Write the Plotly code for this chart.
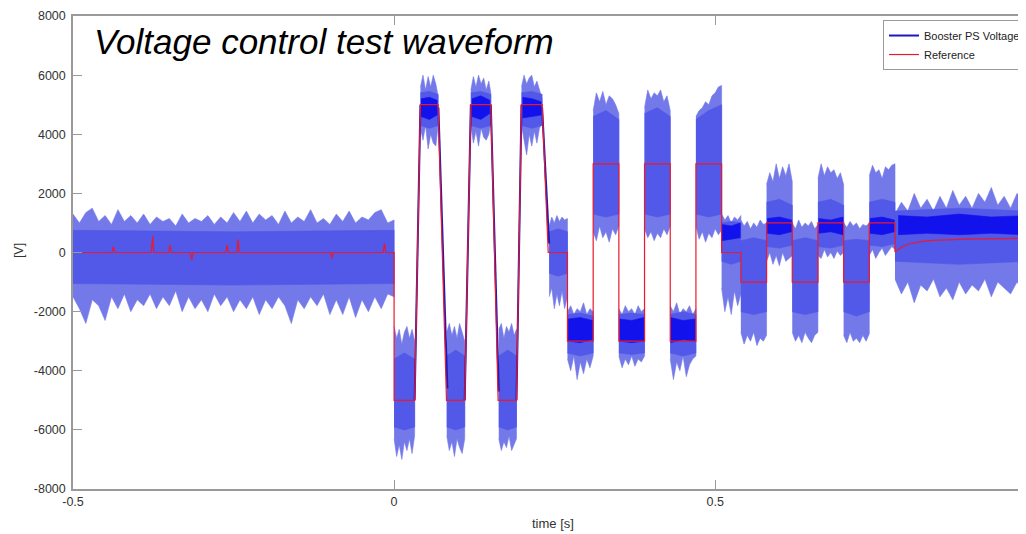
import plotly.graph_objects as go

# ---------------- Reference (red) ----------------
ref_t = [-0.5, -0.439, -0.437, -0.435, -0.378, -0.376, -0.374, -0.351, -0.349, -0.347,
         -0.317, -0.315, -0.313, -0.262, -0.260, -0.258, -0.245, -0.243, -0.241,
         -0.099, -0.097, -0.095, -0.017, -0.015, -0.013, 0.0,
         0.0, 0.032, 0.041, 0.0685, 0.0816, 0.110, 0.1195, 0.1506, 0.162, 0.1906, 0.1984,
         0.2305, 0.240, 0.27, 0.27, 0.31, 0.31, 0.35, 0.35, 0.39, 0.39, 0.43, 0.43, 0.47,
         0.47, 0.51, 0.51, 0.54, 0.54, 0.58, 0.58, 0.62, 0.62, 0.66, 0.66, 0.70, 0.70,
         0.74, 0.74, 0.78, 0.78, 0.79, 0.80, 0.81, 0.82, 0.84, 0.86, 0.89, 0.92, 0.95, 0.984]
ref_v = [0, 0, 200, 0, 0, 550, 0, 0, 250, 0,
         0, -250, 0, 0, 250, 0, 0, 450, 0,
         0, -200, 0, 0, 300, 0, 0,
         -5000, -5000, 5000, 5000, -5000, -5000, 5000, 5000, -5000, -5000, 5000,
         5000, 0, 0, -3000, -3000, 3000, 3000, -3000, -3000, 3000, 3000, -3000, -3000,
         3000, 3000, 0, 0, -1000, -1000, 1000, 1000, -1000, -1000, 1000, 1000, -1000,
         -1000, 1000, 1000, 20, 180, 280, 330, 370, 410, 430, 450, 460, 470, 480]

# ------------- Booster PS voltage, outer (spike) envelope -------------
outer_t = [
    -0.50, -0.49, -0.48, -0.47, -0.46, -0.45, -0.44, -0.43, -0.42, -0.41, -0.40, -0.39, -0.38,
    -0.37, -0.36, -0.35, -0.34, -0.33, -0.32, -0.31, -0.30, -0.29, -0.28, -0.27, -0.26, -0.25,
    -0.24, -0.23, -0.22, -0.21, -0.20, -0.19, -0.18, -0.17, -0.16, -0.15, -0.14, -0.13, -0.12,
    -0.11, -0.10, -0.09, -0.08, -0.07, -0.06, -0.05, -0.04, -0.03, -0.02, -0.01, 0.0, None,
    0.0, 0.004, 0.008, 0.012, 0.016, 0.020, 0.024, 0.028, 0.032, None,
    0.041, 0.045, 0.049, 0.053, 0.057, 0.061, 0.065, 0.0685, None,
    0.082, 0.086, 0.090, 0.094, 0.098, 0.102, 0.106, 0.110, None,
    0.1195, 0.1235, 0.1275, 0.1315, 0.1355, 0.1395, 0.1435, 0.1475, 0.1506, None,
    0.163, 0.167, 0.171, 0.175, 0.179, 0.183, 0.187, 0.1906, None,
    0.1984, 0.2024, 0.2064, 0.2104, 0.2144, 0.2184, 0.2224, 0.2264, 0.2305, None,
    0.2415, 0.2455, 0.2495, 0.2535, 0.2575, 0.2615, 0.2655, 0.27, None,
    0.27, 0.275, 0.28, 0.285, 0.29, 0.295, 0.30, 0.305, 0.31, None,
    0.31, 0.315, 0.32, 0.325, 0.33, 0.335, 0.34, 0.345, 0.35, None,
    0.35, 0.355, 0.36, 0.365, 0.37, 0.375, 0.38, 0.385, 0.39, None,
    0.39, 0.395, 0.40, 0.405, 0.41, 0.415, 0.42, 0.425, 0.43, None,
    0.43, 0.435, 0.44, 0.445, 0.45, 0.455, 0.46, 0.465, 0.47, None,
    0.47, 0.475, 0.48, 0.485, 0.49, 0.495, 0.50, 0.505, 0.51, None,
    0.51, 0.515, 0.52, 0.525, 0.53, 0.535, 0.54, None,
    0.54, 0.545, 0.55, 0.555, 0.56, 0.565, 0.57, 0.575, 0.58, None,
    0.58, 0.585, 0.59, 0.595, 0.60, 0.605, 0.61, 0.615, 0.62, None,
    0.62, 0.625, 0.63, 0.635, 0.64, 0.645, 0.65, 0.655, 0.66, None,
    0.66, 0.665, 0.67, 0.675, 0.68, 0.685, 0.69, 0.695, 0.70, None,
    0.70, 0.705, 0.71, 0.715, 0.72, 0.725, 0.73, 0.735, 0.74, None,
    0.74, 0.745, 0.75, 0.755, 0.76, 0.765, 0.77, 0.775, 0.78, None,
    0.78, 0.79, 0.80, 0.81, 0.82, 0.83, 0.84, 0.85, 0.86, 0.87, 0.88, 0.89, 0.90, 0.91,
    0.92, 0.93, 0.94, 0.95, 0.96, 0.97, 0.98, 0.984]
outer_hi = [
    1300, 1000, 1350, 1500, 1050, 1250, 950, 1450, 1050, 1250, 1000, 1300, 950,
    1200, 1050, 1150, 900, 1300, 1000, 1150, 1050, 1250, 950, 1200, 1000, 1350,
    1050, 1400, 1000, 1300, 1100, 1250, 950, 1400, 1000, 1200, 1050, 1450, 1000,
    1150, 950, 1300, 1050, 1400, 1000, 1200, 1100, 1350, 1450, 1000, 1100, None,
    -2500, -2900, -2600, -3100, -2700, -2500, -2900, -2600, -3000, None,
    5600, 6000, 5500, 5950, 5600, 6000, 5700, 5300, None,
    -2700, -2400, -2800, -2500, -2900, -2400, -2700, -3000, None,
    5500, 5950, 5600, 6000, 5700, 5900, 5500, 5800, 5400, None,
    -2600, -2400, -2900, -2500, -2700, -2400, -2800, -2600, None,
    5600, 6000, 5700, 5900, 6000, 5600, 5800, 5500, 5200, None,
    900, 1200, 1000, 1250, 1050, 1200, 1100, 1150, None,
    -2000, -1800, -2100, -1900, -2000, -1700, -2100, -1900, -2000, None,
    4800, 5400, 5100, 5450, 5000, 5300, 5200, 5000, 4700, None,
    -1900, -2100, -1800, -2000, -1900, -2100, -1800, -2000, -1900, None,
    4900, 5500, 5200, 5400, 5300, 5500, 5100, 5300, 4800, None,
    -1800, -2000, -1700, -2100, -1900, -2000, -1800, -2100, -1900, None,
    4600, 4800, 4900, 5100, 5000, 5300, 5400, 5600, 5650, None,
    1300, 1100, 1250, 1000, 1200, 1100, 1250, None,
    1100, 900, 1050, 800, 1000, 850, 1100, 950, 1000, None,
    2300, 2700, 2400, 3000, 2500, 2900, 2600, 3000, 2400, None,
    1000, 800, 1100, 850, 1000, 900, 1050, 800, 950, None,
    2500, 3000, 2600, 2900, 2700, 2800, 2500, 2700, 2300, None,
    1000, 850, 1050, 900, 1000, 800, 950, 900, 1000, None,
    2600, 2950, 2700, 2800, 2500, 2900, 2800, 2950, 3000, None,
    1300, 1700, 1400, 2000, 1500, 1800, 1400, 1900, 1500, 2100, 1600, 1900, 1500, 2000,
    1700, 2200, 1600, 1900, 1500, 2000, 1800, 1600]
outer_lo = [
    -1500, -1900, -2400, -1600, -1800, -2300, -1500, -1900, -1400, -2000, -1600, -1800, -1400,
    -1900, -1500, -1800, -1300, -2000, -1500, -1900, -1600, -2000, -1400, -1800, -1500, -2000,
    -1600, -1900, -1500, -2100, -1600, -1900, -1500, -1800, -2400, -1600, -1900, -1500, -1800,
    -1400, -2100, -1600, -2100, -1500, -2200, -1600, -2000, -1500, -1900, -1400, -1500, None,
    -6300, -6900, -6500, -7000, -6400, -6700, -6300, -6800, -6200, None,
    4200, 3800, 4300, 3500, 4000, 3700, 3600, 4300, None,
    -6200, -6700, -6400, -6900, -6300, -6600, -6800, -6300, None,
    4300, 3700, 4100, 3600, 4200, 3900, 3800, 4000, 4400, None,
    -6300, -6700, -6400, -6600, -6200, -6700, -6500, -6300, None,
    4300, 3800, 3300, 4000, 3600, 4100, 3700, 4200, 4400, None,
    -1500, -1200, -1900, -1400, -1800, -1300, -1900, -1500, None,
    -3600, -4000, -3500, -4300, -3700, -4100, -3600, -3900, -3500, None,
    700, 400, 900, 500, 700, 350, 800, 600, 900, None,
    -3500, -3900, -3600, -3800, -3500, -3850, -3600, -3700, -3500, None,
    800, 500, 700, 400, 650, 500, 800, 600, 900, None,
    -3600, -4300, -3700, -4000, -3500, -4200, -3800, -3600, -3500, None,
    900, 450, 700, 350, 650, 500, 800, 600, 750, None,
    -1200, -2000, -1500, -2100, -1300, -1800, -1400, None,
    -2700, -3100, -2800, -3000, -2700, -3150, -2900, -3000, -2800, None,
    -300, 0, -400, -100, -450, 0, -300, -200, -100, None,
    -2700, -3000, -2800, -3050, -2700, -2900, -3050, -2800, -2700, None,
    -100, -200, 100, -150, 0, -200, 50, -100, 0, None,
    -2800, -3050, -2700, -3000, -2900, -3050, -2800, -3000, -2750, None,
    -100, 100, -200, 0, 150, -100, 50, 200, 100, None,
    -900, -1400, -1000, -1700, -1100, -1300, -900, -1500, -1200, -1600, -1000, -1400, -1100,
    -1300, -900, -1500, -1000, -1200, -1400, -1000, -1300, -1100]

# ------------- dense (overlapping) part of the trace -------------
mid_t = [-0.5, -0.25, 0.0, None, 0.0, 0.016, 0.032, None, 0.041, 0.055, 0.0685, None,
         0.082, 0.096, 0.110, None, 0.1195, 0.135, 0.1506, None, 0.163, 0.177, 0.1906, None,
         0.1984, 0.2145, 0.2305, None, 0.2415, 0.2555, 0.27, None,
         0.27, 0.29, 0.31, None, 0.31, 0.33, 0.35, None, 0.35, 0.37, 0.39, None,
         0.39, 0.41, 0.43, None, 0.43, 0.45, 0.47, None, 0.47, 0.49, 0.51, None,
         0.51, 0.525, 0.54, None, 0.54, 0.56, 0.58, None, 0.58, 0.60, 0.62, None,
         0.62, 0.64, 0.66, None, 0.66, 0.68, 0.70, None, 0.70, 0.72, 0.74, None,
         0.74, 0.76, 0.78, None, 0.78, 0.88, 0.984]
mid_hi = [750, 700, 750, None, -3600, -3400, -3600, None, 5400, 5450, 5350, None,
          -3500, -3300, -3500, None, 5400, 5450, 5350, None, -3500, -3300, -3500, None,
          5400, 5450, 5350, None, 700, 800, 700, None,
          -2100, -2050, -2150, None, 4600, 4800, 4500, None, -2100, -2050, -2100, None,
          4700, 4900, 4600, None, -2100, -2000, -2100, None, 4500, 4800, 5000, None,
          1000, 1050, 1000, None, 400, 500, 400, None, 1700, 1800, 1600, None,
          400, 500, 400, None, 1700, 1800, 1600, None, 400, 450, 400, None,
          1700, 1800, 1700, None, 1400, 1500, 1400]
mid_lo = [-1050, -1100, -1050, None, -5900, -6000, -5900, None, 4300, 4200, 4300, None,
          -5900, -6000, -5900, None, 4300, 4200, 4300, None, -5900, -6000, -5900, None,
          4300, 4200, 4300, None, -700, -800, -700, None,
          -3400, -3500, -3400, None, 1300, 1200, 1300, None, -3400, -3450, -3400, None,
          1300, 1200, 1300, None, -3400, -3500, -3400, None, 1300, 1200, 1300, None,
          -300, -400, -300, None, -2000, -2100, -2000, None, 200, 150, 250, None,
          -2000, -2100, -2000, None, 200, 150, 250, None, -2000, -2150, -2000, None,
          250, 200, 300, None, -300, -400, -300]

core_t = [0.042, 0.055, 0.067, None, 0.121, 0.135, 0.149, None, 0.200, 0.215, 0.229, None,
          0.271, 0.290, 0.309, None, 0.351, 0.370, 0.389, None, 0.431, 0.450, 0.469, None,
          0.510, 0.525, 0.539, None, 0.581, 0.600, 0.619, None, 0.661, 0.680, 0.699, None,
          0.741, 0.760, 0.779, None, 0.785, 0.83, 0.88, 0.93, 0.984]
core_hi = [5200, 5250, 5150, None, 5200, 5300, 5150, None, 5250, 5200, 5100, None,
           -2250, -2200, -2300, None, -2250, -2300, -2200, None, -2200, -2300, -2250, None,
           950, 900, 1000, None, 1150, 1200, 1100, None, 1150, 1100, 1200, None,
           1150, 1200, 1100, None, 1250, 1200, 1300, 1200, 1250]
core_lo = [4600, 4500, 4650, None, 4600, 4500, 4700, None, 4550, 4600, 4650, None,
           -3000, -3050, -2950, None, -3000, -3050, -3000, None, -3050, -2950, -3000, None,
           400, 450, 500, None, 650, 600, 700, None, 650, 700, 600, None,
           650, 600, 700, None, 600, 650, 600, 650, 600]

# ramps where the voltage follows the trapezoidal reference
ramp_t = [0.032, 0.041, None, 0.069, 0.083, None, 0.110, 0.1195, None,
          0.1506, 0.163, None, 0.1906, 0.1984, None, 0.2305, 0.2415]
ramp_v = [-5000, 5000, None, 4900, -4600, None, -5000, 5000, None,
          5000, -4700, None, -5000, 5000, None, 4900, 300]

x_tickvals = [-0.5, 0, 0.5]
x_ticktext = ["-0.5", "0", "0.5"]
y_tickvals = [-8000, -6000, -4000, -2000, 0, 2000, 4000, 6000, 8000]
y_ticktext = ["-8000", "-6000", "-4000", "-2000", "0", "2000", "4000", "6000", "8000"]


def band_polygons(ts, his, los):
    """Closed polygons (one per segment split by None) between hi and lo envelopes."""
    xs, ys = [], []
    seg_t, seg_h, seg_l = [], [], []
    for t, h, l in list(zip(ts, his, los)) + [(None, None, None)]:
        if t is None:
            if seg_t:
                xs += seg_t + seg_t[::-1] + [None]
                ys += seg_h + seg_l[::-1] + [None]
            seg_t, seg_h, seg_l = [], [], []
        else:
            seg_t.append(t)
            seg_h.append(h)
            seg_l.append(l)
    return xs, ys


FONT = "Liberation Sans, Arial, Helvetica, sans-serif"
TXT = "#333333"
AX = "#9a9a9a"

fig = go.Figure()
for (ts, hs, ls), col in [((outer_t, outer_hi, outer_lo), "rgb(115,121,232)"),
                          ((mid_t, mid_hi, mid_lo), "rgb(82,88,232)"),
                          ((core_t, core_hi, core_lo), "rgb(18,18,236)")]:
    px, py = band_polygons(ts, hs, ls)
    fig.add_trace(go.Scatter(x=px, y=py, mode="lines", fill="toself", fillcolor=col,
                             line=dict(color=col, width=0.6), showlegend=False,
                             hoverinfo="skip"))

fig.add_trace(go.Scatter(x=ramp_t, y=ramp_v, mode="lines", name="Booster PS Voltage",
                         line=dict(color="rgb(25,25,190)", width=2)))
fig.add_trace(go.Scatter(x=ref_t, y=ref_v, mode="lines", name="Reference",
                         line=dict(color="rgb(235,25,45)", width=1.2)))

# the page body adds an 8 px offset, so the figure is 8 px smaller than the window
fig.update_layout(
    width=1018, height=526,
    margin=dict(l=65, r=0, t=8, b=45, autoexpand=False),
    paper_bgcolor="white", plot_bgcolor="white",
    font=dict(family=FONT, color=TXT, size=12.5),
    showlegend=True,
    legend=dict(x=1.0, y=0.9915, xanchor="right", yanchor="top",
                bgcolor="white", bordercolor=AX, borderwidth=1,
                font=dict(size=11, color="#222222", family=FONT),
                tracegroupgap=0),
    xaxis=dict(range=[-0.5, 0.984], tickvals=x_tickvals, ticktext=x_ticktext,
               ticks="inside", ticklen=9, tickcolor=AX, showline=True, linecolor=AX,
               linewidth=1.5, mirror="ticks", showgrid=False, zeroline=False,
               automargin=False, ticklabeloverflow="allow",
               tickfont=dict(size=12.5, color=TXT)),
    yaxis=dict(range=[-8000, 8000], tickvals=y_tickvals, ticktext=y_ticktext,
               ticks="inside", ticklen=9, tickcolor=AX, showline=True, linecolor=AX,
               linewidth=1.5, mirror=False, showgrid=False, zeroline=False,
               automargin=False, ticklabeloverflow="allow", ticklabelstandoff=3,
               tickfont=dict(size=12.5, color=TXT)),
    annotations=[
        dict(text="Voltage control test waveform", xref="paper", yref="paper",
             x=0.02, y=0.947, xanchor="left", yanchor="middle", showarrow=False,
             font=dict(size=35, color="black", family=FONT, style="italic")),
        dict(text="time [s]", xref="paper", yref="paper", x=0.5037, y=-0.0719,
             xanchor="center", yanchor="middle", showarrow=False,
             font=dict(size=13, color=TXT, family=FONT)),
        dict(text="[V]", xref="paper", yref="paper", x=-0.0567, y=0.505,
             xanchor="center", yanchor="middle", showarrow=False, textangle=-90,
             font=dict(size=12.5, color=TXT, family=FONT)),
    ],
)

fig.write_html("out.html")
